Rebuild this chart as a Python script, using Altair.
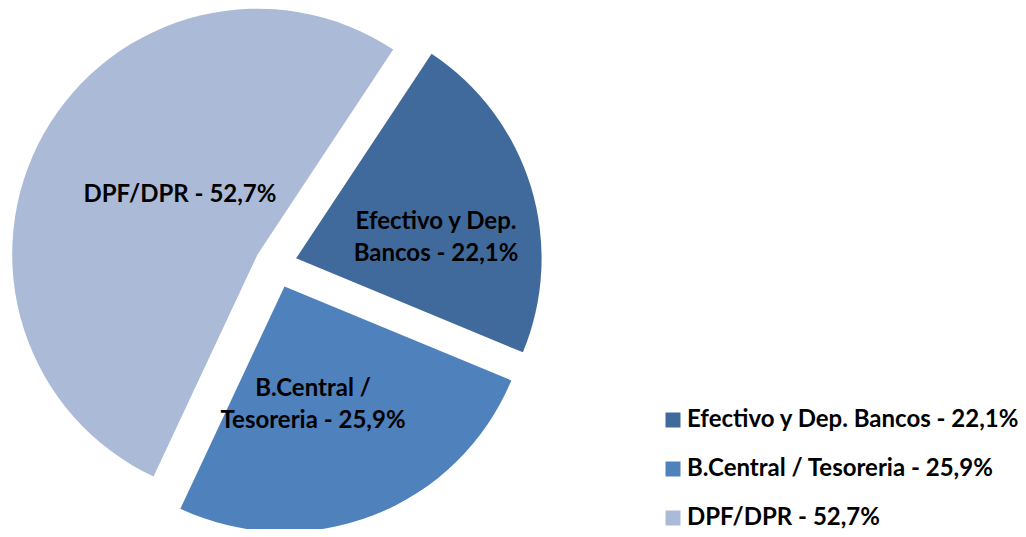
import math
import altair as alt
import pandas as pd

# ---- data ----
categories = ["Efectivo y Dep. Bancos", "B.Central / Tesoreria", "DPF/DPR"]
values = [22.1, 25.9, 52.7]
slice_labels = ["Efectivo y Dep.\nBancos - 22,1%", "B.Central /\nTesoreria - 25,9%", "DPF/DPR - 52,7%"]
legend_labels = [f"{c} - {str(v).replace('.', ',')}%" for c, v in zip(categories, values)]
colors = ["#416A9C", "#4F81BD", "#AABAD7"]

df = pd.DataFrame({"category": legend_labels, "value": values, "label": slice_labels})

# ---- layout ----
TOTAL = sum(values)
ROT = math.radians(33.5)
CX, CY = 268, 256.5
R = 245.5
EXPLODE = [21, 23.5, 21]                 # explosion distance of each slice
LABEL_R = [144.6, 106.9, 97.7]           # label distance from each slice centre
LABEL_DT = [math.radians(a) for a in (2.4, 5.7, 8.0)]  # angular shift of label
FONT = "Lato"
FS = 24

base = (
    alt.Chart(df)
    .transform_window(cum="sum(value)", idx="row_number()", frame=[None, 0])
    .transform_calculate(start="datum.cum - datum.value")
    .transform_calculate(mid=f"{ROT} + 2*PI*(datum.start + datum.value/2)/{TOTAL}")
    .transform_calculate(ex=f"{EXPLODE}[datum.idx-1]")
    .transform_calculate(px=f"{CX} + datum.ex*sin(datum.mid)")
    .transform_calculate(py=f"{CY} - datum.ex*cos(datum.mid)")
    .transform_calculate(lr=f"{LABEL_R}[datum.idx-1]")
    .transform_calculate(lt=f"datum.mid + {LABEL_DT}[datum.idx-1]")
    .transform_calculate(lx="datum.px + datum.lr*sin(datum.lt)")
    .transform_calculate(ly="datum.py - datum.lr*cos(datum.lt)")
)

arcs = base.mark_arc(outerRadius=R, strokeWidth=0).encode(
    x=alt.X("px:Q", scale=None, axis=None),
    y=alt.Y("py:Q", scale=None, axis=None),
    theta=alt.Theta("start:Q", scale=alt.Scale(domain=[0, TOTAL], range=[ROT, ROT + 2 * math.pi])),
    theta2="cum:Q",
    color=alt.Color(
        "category:N",
        scale=alt.Scale(domain=legend_labels, range=colors),
        sort=legend_labels,
        legend=alt.Legend(
            orient="none",
            legendX=653,
            legendY=400,
            title=None,
            symbolType="square",
            symbolSize=225,
            symbolStrokeWidth=0,
            labelFont=FONT,
            labelFontWeight="bold",
            labelFontSize=FS,
            labelColor="black",
            rowPadding=25,
            labelOffset=2,
            labelLimit=600,
        ),
    ),
)

texts = base.mark_text(
    font=FONT, fontWeight="bold", fontSize=FS, lineBreak="\n", lineHeight=32,
    color="black", align="center", baseline="middle",
).encode(
    x=alt.X("lx:Q", scale=None, axis=None),
    y=alt.Y("ly:Q", scale=None, axis=None),
    text="label:N",
)

chart = (
    alt.layer(arcs, texts)
    .properties(width=1010, height=521, padding=0, autosize="none", background="white")
    .configure_view(stroke=None)
)

chart.save("out.html", embed_options={"renderer": "svg", "actions": False})
